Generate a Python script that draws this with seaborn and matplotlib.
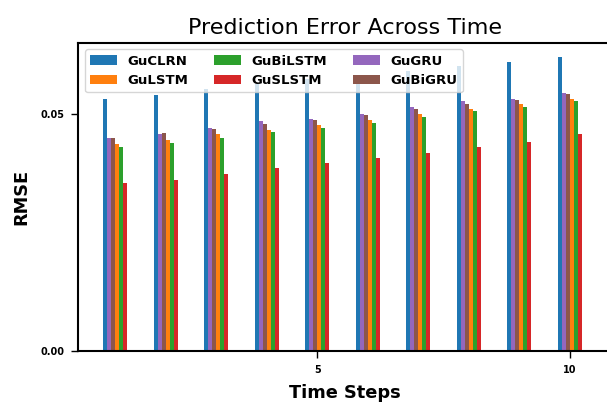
import matplotlib
matplotlib.use("Agg")
import matplotlib.pyplot as plt
from matplotlib.ticker import MultipleLocator, FormatStrFormatter
import seaborn as sns
import pandas as pd

steps = [1, 2, 3, 4, 5, 6, 7, 8, 9, 10]
gu_clrn = [0.0531, 0.0540, 0.0553, 0.0563, 0.0573, 0.0581, 0.0591, 0.0601, 0.0610, 0.0619]
gu_gru = [0.0449, 0.0457, 0.0471, 0.0485, 0.0489, 0.0500, 0.0515, 0.0527, 0.0532, 0.0545]
gu_bigru = [0.0449, 0.0459, 0.0468, 0.0478, 0.0487, 0.0498, 0.0510, 0.0521, 0.0529, 0.0541]
gu_lstm = [0.0436, 0.0445, 0.0458, 0.0467, 0.0477, 0.0487, 0.0500, 0.0511, 0.0521, 0.0532]
gu_bilstm = [0.0430, 0.0439, 0.0449, 0.0462, 0.0471, 0.0481, 0.0493, 0.0506, 0.0515, 0.0527]
gu_slstm = [0.0354, 0.0362, 0.0374, 0.0386, 0.0396, 0.0408, 0.0418, 0.0430, 0.0441, 0.0457]

series = {
    "GuCLRN": gu_clrn,
    "GuLSTM": gu_lstm,
    "GuBiLSTM": gu_bilstm,
    "GuSLSTM": gu_slstm,
    "GuGRU": gu_gru,
    "GuBiGRU": gu_bigru,
}
legend_order = ["GuCLRN", "GuLSTM", "GuBiLSTM", "GuSLSTM", "GuGRU", "GuBiGRU"]
bar_order = ["GuCLRN", "GuGRU", "GuBiGRU", "GuLSTM", "GuBiLSTM", "GuSLSTM"]
colors = {
    "GuCLRN": "#1f77b4",
    "GuLSTM": "#ff7f0e",
    "GuBiLSTM": "#2ca02c",
    "GuSLSTM": "#d62728",
    "GuGRU": "#9467bd",
    "GuBiGRU": "#8c564b",
}

rows = []
for name, vals in series.items():
    for s, v in zip(steps, vals):
        rows.append({"step": s, "model": name, "rmse": v})
df = pd.DataFrame(rows)

sns.set_style("ticks")
plt.rcParams["font.family"] = ["DejaVu Sans"]
plt.rcParams["axes.edgecolor"] = "black"
plt.rcParams["axes.linewidth"] = 1.5
plt.rcParams["xtick.color"] = "black"
plt.rcParams["ytick.color"] = "black"
plt.rcParams["text.color"] = "black"
plt.rcParams["axes.labelcolor"] = "black"

fig = plt.figure(figsize=(6.07, 4.03), dpi=100)
ax = fig.add_axes([0.129, 0.1278, 1.0077 - 0.129, 0.894 - 0.1278])

sns.barplot(data=df, x="step", y="rmse", hue="model", hue_order=bar_order,
            palette=colors, native_scale=True, width=0.48, saturation=1,
            errorbar=None, linewidth=0, ax=ax)

ax.set_xlim(0.27, 10.83)
ax.xaxis.set_major_locator(MultipleLocator(5))
ax.yaxis.set_major_locator(MultipleLocator(0.05))
ax.yaxis.set_major_formatter(FormatStrFormatter("%.2f"))
ax.tick_params(axis="both", length=5, width=1, labelsize=7, pad=5,
               colors="black", labelcolor="black")
for lab in ax.get_xticklabels() + ax.get_yticklabels():
    lab.set_fontweight("bold")

ax.set_title("Prediction Error Across Time", fontsize=16, color="black")
ax.set_xlabel("Time Steps", fontsize=12.8, fontweight="bold", labelpad=6.5, color="black")
ax.set_ylabel("RMSE", fontsize=12.8, fontweight="bold", labelpad=7.5, color="black")

old = ax.get_legend()
hmap = {t.get_text(): h for t, h in zip(old.get_texts(), old.legend_handles)}
old.remove()
leg = ax.legend([hmap[n] for n in legend_order], legend_order, ncol=3, loc="upper left",
                prop={"weight": "bold", "size": 9.5}, frameon=True, framealpha=0.8)
for t in leg.get_texts():
    t.set_color("black")

sns.despine(ax=ax, top=False, right=False)
fig.savefig("out.png", dpi=100)
